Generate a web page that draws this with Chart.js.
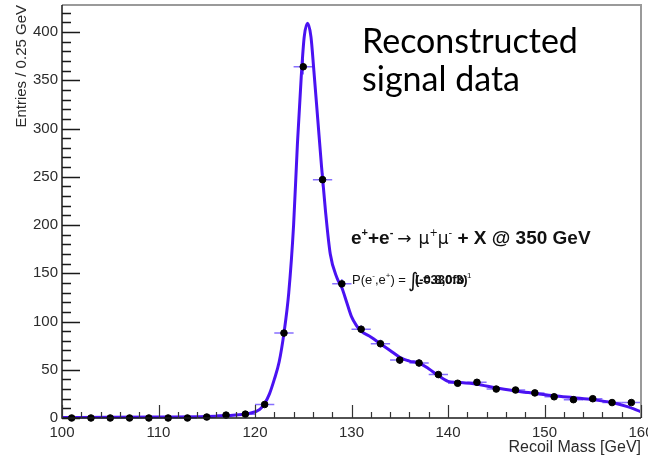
<!DOCTYPE html>
<html>
<head>
<meta charset="utf-8">
<script src="https://cdn.jsdelivr.net/npm/chart.js@4.4.1/dist/chart.umd.min.js"></script>
<style>
html,body{margin:0;padding:0;background:#fff}
canvas{display:block}
</style>
</head>
<body>
<canvas id="c" width="648" height="460"></canvas>
<script>
/* recoil mass histogram + fit curve */
const binMass    = [101,103,105,107,109,111,113,115,117,119,121,123,125,127,129,131,133,135,137,139,141,143,145,147,149,151,153,155,157,159];
const binEntries = [0,0,0,0,0,0,0,1,3,4,14,88,364,247,139,92,77,60,57,45,36,37,30,29,26,22,19,20,16,16];
const binErrY    = [0,0,0,0,0,0,0,1,1,1,2,4,8,7,5,4,4,4,4,3,3,3,3,3,3,2,2,2,2,2];
const binHalf = 1;

const fitMass    = [100,105,110,115,118,119.5,120.5,121,121.5,122,122.5,123,123.5,124,124.4,124.8,125.1,125.45,125.8,126.1,126.5,126.9,127.3,127.8,128.5,129,129.5,130,130.5,131,132,133,134,135,136,137,138,139,140,141,143,145,147,149,151,153,155,157,158.5,160];
const fitEntries = [0.5,0.7,1,1.5,3,5,9,15,25,40,58,88,130,200,285,355,395,409,395,360,310,260,215,170,145,135,120,105,96,90,84,77,70,63,59,57,51,44,38,37,35,31,28,25.5,23,21,19,16,12,6.5];

const xTickVals = [100,110,120,130,140,150,160];
const yTickVals = [0,50,100,150,200,250,300,350,400];

const FIT_COLOR = "#4a12f2";
const ERR_COLOR = "rgba(105,75,255,0.8)";
const AXIS_FONT = "'Liberation Sans', Arial, sans-serif";

function $(id){return document.getElementById(id);}

const errBars = {
  id:"errBars",
  beforeDatasetsDraw(chart){
    const {ctx, scales:{x,y}} = chart;
    ctx.save();
    ctx.strokeStyle = ERR_COLOR; ctx.lineWidth = 1.5;
    binMass.forEach((m,i)=>{
      const px = x.getPixelForValue(m), py = y.getPixelForValue(binEntries[i]);
      ctx.beginPath();
      ctx.moveTo(x.getPixelForValue(m-binHalf), py); ctx.lineTo(x.getPixelForValue(m+binHalf), py);
      if(binErrY[i]>0){
        ctx.moveTo(px, y.getPixelForValue(binEntries[i]-binErrY[i]));
        ctx.lineTo(px, y.getPixelForValue(binEntries[i]+binErrY[i]));
      }
      ctx.stroke();
    });
    ctx.restore();
  }
};

// ROOT style frame: ticks pointing inward, minor ticks
const frame = {
  id:"frame",
  afterDatasetsDraw(chart){
    const {ctx, chartArea:a, scales:{x,y}} = chart;
    ctx.save();
    ctx.strokeStyle = "#9a9a9a"; ctx.lineWidth = 2;
    ctx.beginPath(); ctx.moveTo(a.left, a.top); ctx.lineTo(a.right, a.top); ctx.lineTo(a.right, a.bottom); ctx.stroke();
    ctx.strokeStyle = "#1a1a1a"; ctx.lineWidth = 1.5;
    ctx.beginPath(); ctx.moveTo(a.left, a.top); ctx.lineTo(a.left, a.bottom); ctx.lineTo(a.right, a.bottom); ctx.stroke();
    ctx.beginPath();
    for(let v=0; v<=y.max; v+=10){
      const py = Math.round(y.getPixelForValue(v))+0.5;
      const len = v%50===0 ? 18 : 9;
      ctx.moveTo(a.left, py); ctx.lineTo(a.left+len, py);
    }
    ctx.stroke();
    ctx.strokeStyle = "#333"; ctx.lineWidth = 1.2;
    ctx.beginPath();
    for(let v=x.min; v<=x.max; v+=2){
      const px = Math.round(x.getPixelForValue(v))+0.5;
      const len = v%10===0 ? 13 : 6;
      ctx.moveTo(px, a.bottom); ctx.lineTo(px, a.bottom-len);
    }
    ctx.stroke();
    ctx.restore();
  }
};

function drawRuns(ctx, x, y, runs){
  runs.forEach(r=>{
    ctx.font = r.font;
    ctx.fillText(r.t, x, y - (r.dy||0));
    x += ctx.measureText(r.t).width + (r.gap||0);
  });
  return x;
}

const labels = {
  id:"labels",
  afterDraw(chart){
    const ctx = chart.ctx;
    ctx.save();
    ctx.textBaseline = "alphabetic"; ctx.textAlign = "left";
    // big caption
    ctx.fillStyle = "#000";
    ctx.font = "36px Lato, 'Open Sans', sans-serif";
    const w = ctx.measureText("Reconstructed").width;
    const fs = 36*216/w;
    ctx.font = fs.toFixed(1)+"px Lato, 'Open Sans', sans-serif";
    ctx.fillText("Reconstructed", 362, 53);
    ctx.fillText("signal data", 362, 91);

    // process label
    ctx.fillStyle = "#111";
    const B = "bold 19px "+AXIS_FONT, Bs = "bold 11px "+AXIS_FONT;
    const N = "17px 'DejaVu Sans', sans-serif", Ns = "10px 'DejaVu Sans', sans-serif";
    drawRuns(ctx, 351, 244, [
      {t:"e",font:B},{t:"+",font:Bs,dy:8},{t:"+e",font:B},{t:"-",font:Bs,dy:8,gap:4},
      {t:"\u2192",font:N,gap:7},
      {t:"\u03bc",font:N},{t:"+",font:Ns,dy:8},{t:"\u03bc",font:N},{t:"-",font:Ns,dy:8},
      {t:" + X @ 350 GeV",font:B}
    ]);

    // polarisation / luminosity label (overlapping, as in the original plot)
    const S = "13px "+AXIS_FONT, Ss = "8px "+AXIS_FONT;
    let px = drawRuns(ctx, 352, 284, [
      {t:"P(e",font:S},{t:"-",font:Ss,dy:6},{t:",e",font:S},{t:"+",font:Ss,dy:6},{t:") =",font:S,gap:3}
    ]);
    ctx.font = "20px 'DejaVu Sans', sans-serif";
    ctx.fillText("\u222b", px-1, 287);
    px += 6;
    ctx.font = "bold 13px "+AXIS_FONT;
    ctx.fillText("(-0.8,0.3)", px, 284);
    const e = drawRuns(ctx, px, 284, [{t:"L=330fb",font:"bold 13px "+AXIS_FONT}]);
    ctx.font = "8px "+AXIS_FONT;
    ctx.fillText("-1", e, 278);
    ctx.restore();
  }
};

const chart = new Chart($("c").getContext("2d"), {
  type:"scatter",
  data:{
    datasets:[
      {
        label:"data",
        data: binMass.map((m,i)=>({x:m, y:binEntries[i]})),
        backgroundColor:"#000", borderColor:"#000",
        pointRadius:3.3, pointHoverRadius:3.3, clip:false
      },
      {
        type:"line", label:"fit",
        data: fitMass.map((m,i)=>({x:m, y:fitEntries[i]})),
        borderColor:FIT_COLOR, borderWidth:3,
        pointRadius:0, fill:false, cubicInterpolationMode:"monotone"
      }
    ]
  },
  options:{
    responsive:false, animation:false,
    layout:{padding:{top:5, right:7, left:0, bottom:0}},
    plugins:{legend:{display:false}, tooltip:{enabled:false}},
    scales:{
      x:{
        type:"linear", min:100, max:160,
        afterFit(s){ s.height = 42; s.paddingLeft = 0; s.paddingRight = 0; },
        afterBuildTicks(s){ s.ticks = xTickVals.map(v=>({value:v})); },
        grid:{display:false, drawTicks:false}, border:{display:false},
        ticks:{color:"#2b2b2b", padding:6, maxRotation:0, autoSkip:false, font:{family:AXIS_FONT, size:15}},
        title:{display:true, text:"Recoil Mass [GeV]", align:"end", color:"#2b2b2b",
               padding:{top:0,bottom:3}, font:{family:AXIS_FONT, size:16}}
      },
      y:{
        type:"linear", min:0, max:428,
        afterFit(s){ s.width = 62; s.paddingTop = 0; s.paddingBottom = 0; },
        afterBuildTicks(s){ s.ticks = yTickVals.map(v=>({value:v})); },
        grid:{display:false, drawTicks:false}, border:{display:false},
        ticks:{color:"#2b2b2b", padding:4, font:{family:AXIS_FONT, size:15}},
        title:{display:true, text:"Entries / 0.25 GeV", align:"end", color:"#2b2b2b",
               padding:{top:13,bottom:0}, font:{family:AXIS_FONT, size:15}}
      }
    }
  },
  plugins:[errBars, frame, labels]
});
</script>
</body>
</html>
